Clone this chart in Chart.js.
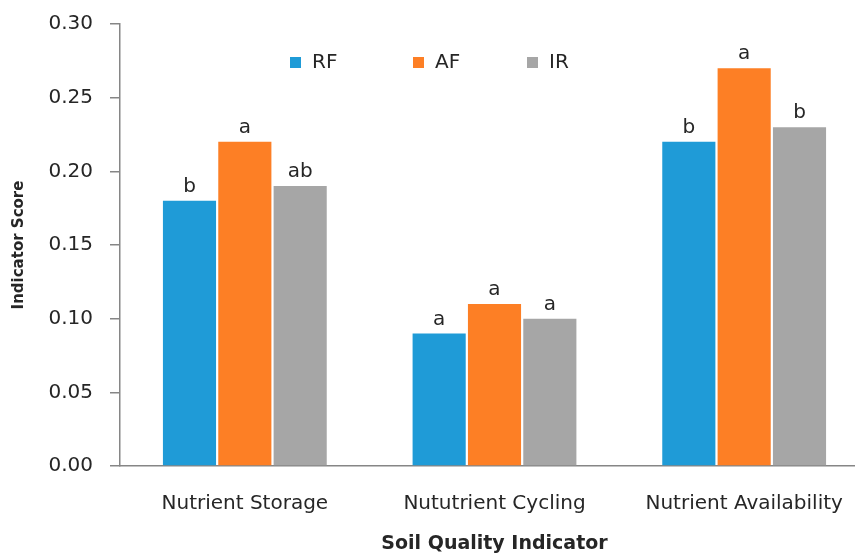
<!DOCTYPE html>
<html>
<head>
<meta charset="utf-8">
<script src="https://cdn.jsdelivr.net/npm/chart.js@4"></script>
<style>
  html, body { margin: 0; padding: 0; background: #fff; overflow: hidden; }
  #wrap { width: 870px; height: 557px; }
</style>
</head>
<body>
<div id="wrap"><canvas id="soilChart" width="870" height="557"></canvas></div>
<script>
// data
const categories = ['Nutrient Storage', 'Nututrient Cycling', 'Nutrient Availability'];
const rfValues = [0.18, 0.09, 0.22];
const afValues = [0.22, 0.11, 0.27];
const irValues = [0.19, 0.10, 0.23];
const rfLetters = ['b', 'a', 'b'];
const afLetters = ['a', 'a', 'a'];
const irLetters = ['ab', 'a', 'b'];
const yTicks = [0, 0.05, 0.10, 0.15, 0.20, 0.25, 0.30];

const FONT = "'DejaVu Sans', Verdana, sans-serif";
const TXT = '#262626';

// letters above each bar
const letterPlugin = {
    id: 'letters',
    afterDatasetsDraw(chart) {
        const ctx = chart.ctx;
        ctx.save();
        ctx.font = '20px ' + FONT;
        ctx.fillStyle = TXT;
        ctx.textAlign = 'center';
        ctx.textBaseline = 'bottom';
        chart.data.datasets.forEach((ds, i) => {
            const meta = chart.getDatasetMeta(i);
            meta.data.forEach((bar, j) => {
                ctx.fillText(ds.letters[j], bar.x, bar.y - 4);
            });
        });
        ctx.restore();
    }
};

// legend sitting inside the plot, near the top
const innerLegend = {
    id: 'innerLegend',
    afterDraw(chart) {
        const ctx = chart.ctx;
        const area = chart.chartArea;
        const xs = [290, 413, 527]; // box left edges
        const y = area.top + 38;
        ctx.save();
        ctx.font = '20px ' + FONT;
        ctx.textBaseline = 'middle';
        chart.data.datasets.forEach((ds, i) => {
            ctx.fillStyle = ds.backgroundColor;
            ctx.fillRect(xs[i], y - 5, 11, 11);
            ctx.fillStyle = TXT;
            ctx.fillText(ds.label, xs[i] + 22, y + 1);
        });
        ctx.restore();
    }
};

const ctx = document.getElementById('soilChart').getContext('2d');
new Chart(ctx, {
    type: 'bar',
    data: {
        labels: categories,
        datasets: [
            { label: 'RF', data: rfValues, letters: rfLetters, backgroundColor: '#1f9bd7' },
            { label: 'AF', data: afValues, letters: afLetters, backgroundColor: '#fd7f25' },
            { label: 'IR', data: irValues, letters: irLetters, backgroundColor: '#a6a6a6' }
        ]
    },
    options: {
        responsive: false,
        animation: false,
        layout: { padding: { top: 24, right: 1, left: 10, bottom: 2 } },
        datasets: {
            bar: { categoryPercentage: 0.665, barPercentage: 0.96 }
        },
        plugins: {
            legend: { display: false },
            tooltip: { enabled: false }
        },
        scales: {
            x: {
                afterFit(axis) { axis.height = 89; },
                grid: { display: false },
                border: { display: true, color: '#868686', width: 1.5 },
                ticks: { color: TXT, font: { family: FONT, size: 20 }, padding: 18, maxRotation: 0 },
                title: {
                    display: true, text: 'Soil Quality Indicator', color: TXT,
                    font: { family: FONT, size: 19, weight: 'bold' }, padding: { top: 10, bottom: 0 }
                }
            },
            y: {
                min: 0,
                max: 0.30,
                afterBuildTicks(axis) { axis.ticks = yTicks.map(v => ({ value: v })); },
                afterFit(axis) {
                    axis.width = 110;
                    axis.paddingTop = 0;
                    axis.paddingBottom = 0;
                },
                grid: { display: true, drawOnChartArea: false, drawTicks: true, tickLength: 10, color: '#868686', lineWidth: 1.5 },
                border: { display: true, color: '#868686', width: 1.5 },
                ticks: {
                    color: TXT, font: { family: FONT, size: 20 }, padding: 17,
                    callback: v => Number(v).toFixed(2)
                },
                title: {
                    display: true, text: 'Indicator Score', color: TXT,
                    font: { family: FONT, size: 15, weight: 'bold' }, padding: { top: 0, bottom: 4 }
                }
            }
        }
    },
    plugins: [letterPlugin, innerLegend]
});
</script>
</body>
</html>
